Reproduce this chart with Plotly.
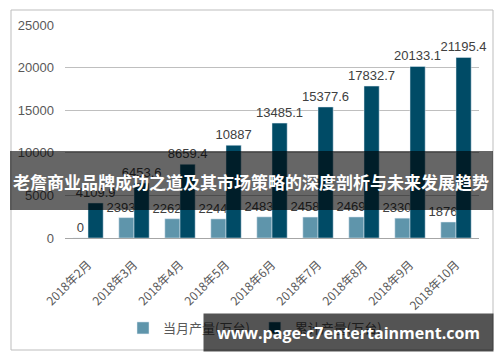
import plotly.graph_objects as go

months = ["2018年2月", "2018年3月", "2018年4月", "2018年5月", "2018年6月",
          "2018年7月", "2018年8月", "2018年9月", "2018年10月"]
monthly = [0, 2393.7, 2262.9, 2244.4, 2483.3, 2458.5, 2469.2, 2330.2, 1876.1]
cumulative = [4109.9, 6453.6, 8659.4, 10887, 13485.1, 15377.6, 17832.7, 20133.1, 21195.4]
series_names = ["当月产量(万台)", "累计产量(万台)"]
title_text = "老詹商业品牌成功之道及其市场策略的深度剖析与未来发展趋势"
watermark_text = "www.page-c7entertainment.com"

W, H = 500, 362
L, R, T, B = 65, 21, 25, 124
PW, PH = W - L - R, H - T - B


def px(x):
    return (x - L) / PW


def py(y):
    return (H - B - y) / PH


FONT = "Liberation Sans, Arial, sans-serif"
CJK = "Noto Sans CJK SC, sans-serif"


def fmt(v):
    return "0" if v == 0 else ("%g" % v)


fig = go.Figure()
fig.add_trace(go.Bar(
    x=months, y=monthly, name=series_names[0],
    marker_color="#5F95AB",
    text=[fmt(v) for v in monthly], textposition="outside",
    textangle=0, constraintext="none", cliponaxis=False,
    textfont=dict(size=13, color="#404040", family=FONT),
))
fig.add_trace(go.Bar(
    x=months, y=cumulative, name=series_names[1],
    marker_color="#004B66",
    text=[fmt(v) for v in cumulative], textposition="outside",
    textangle=0, constraintext="none", cliponaxis=False,
    textfont=dict(size=13, color="#404040", family=FONT),
))

fig.update_layout(
    width=W, height=H,
    margin=dict(l=L, r=R, t=T, b=B, autoexpand=False),
    paper_bgcolor="white", plot_bgcolor="white",
    barmode="group", bargap=0.34, bargroupgap=0,
    font=dict(family=CJK, color="#595959"),
    showlegend=True,
    legend=dict(orientation="h", xref="container", yref="container",
                x=0.51, xanchor="center", y=(H - 328) / H, yanchor="middle",
                bgcolor="rgba(0,0,0,0)",
                font=dict(size=13, color="#595959", family=CJK),
                itemwidth=30, traceorder="normal"),
    xaxis=dict(tickangle=-45, tickfont=dict(size=12, color="#595959", family=CJK),
               showline=True, linecolor="#A6A6A6", linewidth=1, ticks="",
               showgrid=False, automargin=False, ticklabelstandoff=14),
    yaxis=dict(range=[0, 25000], dtick=5000, tickformat="d",
               tickfont=dict(size=13, color="#595959", family=FONT),
               showgrid=True, gridcolor="#BFBFBF", gridwidth=1,
               zeroline=False, ticks="", ticklabelstandoff=10, automargin=False),
    shapes=[
        dict(type="rect", xref="paper", yref="paper",
             x0=px(11), x1=px(493), y0=py(350), y1=py(10),
             line=dict(color="#BDBDBD", width=1), fillcolor="rgba(0,0,0,0)",
             layer="below"),
        dict(type="rect", xref="paper", yref="paper",
             x0=px(10), x1=px(493), y0=py(210), y1=py(151),
             line=dict(width=0), fillcolor="rgba(0,0,0,0.6)", layer="above"),
    ],
    annotations=[
        dict(text=title_text, xref="paper", yref="paper",
             x=px(251), y=py(181), xanchor="center", yanchor="middle",
             showarrow=False,
             font=dict(size=17, color="white", family=CJK, weight="bold")),
        dict(text=watermark_text, xref="paper", yref="paper",
             x=px(203), y=py(352), xanchor="left", yanchor="bottom",
             width=285, height=33, borderpad=2, align="center", valign="middle",
             bgcolor="rgba(0,0,0,0.67)", showarrow=False,
             font=dict(size=16, color="white", family="Open Sans, Noto Sans, sans-serif",
                       weight="bold")),
    ],
)

fig.write_html("out.html", config={"displayModeBar": False},
               post_script="document.body.style.margin='0';")
